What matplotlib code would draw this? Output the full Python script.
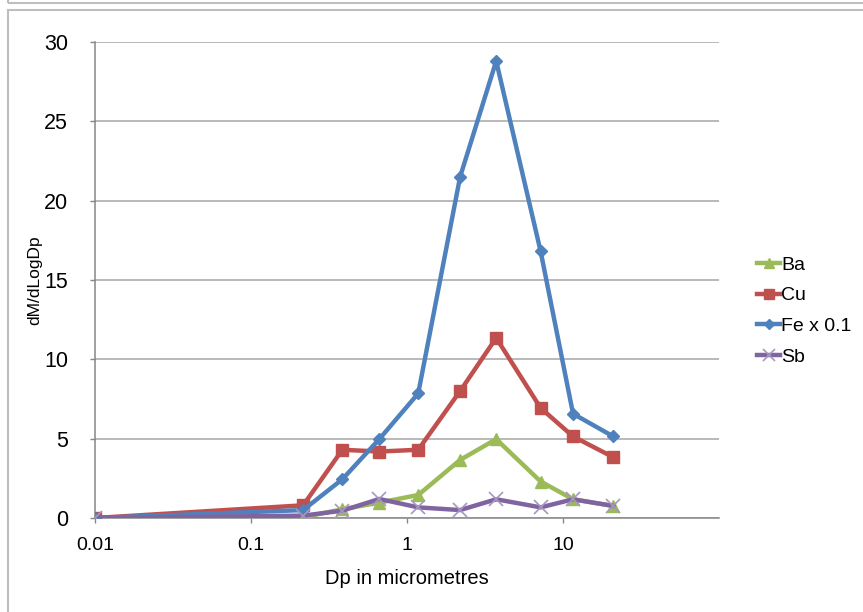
import numpy as np
import matplotlib.pyplot as plt
from matplotlib.patches import Rectangle

plt.rcParams['font.family'] = ['Liberation Sans', 'DejaVu Sans']

# Datos
dp = [0.01, 0.216, 0.385, 0.664, 1.18, 2.19, 3.73, 7.19, 11.6, 21.0]
ba = [0, 0.05, 0.55, 0.97, 1.45, 3.66, 4.97, 2.3, 1.18, 0.76]
cu = [0, 0.8, 4.3, 4.19, 4.3, 8.0, 11.35, 6.93, 5.14, 3.83]
fe = [0, 0.5, 2.44, 4.97, 7.85, 21.5, 28.8, 16.8, 6.57, 5.14]
sb = [0, 0.15, 0.46, 1.2, 0.67, 0.5, 1.18, 0.67, 1.18, 0.76]

xticks = [0.01, 0.1, 1, 10]
xtick_labels = ['0.01', '0.1', '1', '10']
yticks = [0, 5, 10, 15, 20, 25, 30]

fig = plt.figure(figsize=(8.63, 6.12), dpi=100)

# bordes del area del grafico (recortados)
fig.patches.append(Rectangle((8/863, -0.1), 1.2, 1 - 9.5/612 + 0.1,
                             transform=fig.transFigure, fill=False,
                             edgecolor='#BEBEBE', linewidth=1.5))
fig.patches.append(Rectangle((8/863, 1 - 2.5/612), 1.2, 0.1,
                             transform=fig.transFigure, fill=False,
                             edgecolor='#BEBEBE', linewidth=1.5))

ax = fig.add_axes([95/863, 1 - 518/612, 624/863, 476/612])

lw = 3.2
ax.plot(dp, ba, '-^', color='#9BBB59', lw=lw, ms=9, label='Ba', zorder=3)
ax.plot(dp, cu, '-s', color='#C0504D', lw=lw, ms=9, label='Cu', zorder=4)
ax.plot(dp, fe, '-D', color='#4F81BD', lw=lw, ms=6.5, label='Fe x 0.1', zorder=5)
ax.plot(dp, sb, '-x', color='#8064A2', lw=lw, ms=10, mec='#A597C0', mew=1.2,
        label='Sb', zorder=6)

ax.set_xscale('log')
ax.set_xlim(0.01, 100)
ax.set_ylim(0, 30)
ax.set_xticks(xticks)
ax.set_xticklabels(xtick_labels)
ax.xaxis.set_minor_locator(plt.NullLocator())
ax.set_yticks(yticks)
ax.tick_params(axis='both', color='#868686', length=3.5, width=1)
ax.tick_params(axis='x', labelsize=14, pad=10)
ax.tick_params(axis='y', labelsize=15.5, pad=16)
ax.grid(axis='y', color='#A6A6A6', linewidth=1.1)
ax.set_axisbelow(True)
for s in ['top', 'right']:
    ax.spines[s].set_visible(False)
for s in ['left', 'bottom']:
    ax.spines[s].set_color('#868686')
    ax.spines[s].set_linewidth(1.1)

ax.set_xlabel('Dp in micrometres', fontsize=14.5, labelpad=11)
ax.set_ylabel('dM/dLogDp', fontsize=12.5, labelpad=1)

handles, labels = ax.get_legend_handles_labels()
fig.legend(handles, labels, loc='center left', bbox_to_anchor=(757/863, 1 - 311/612),
           frameon=False, fontsize=14, handlelength=1.2, handletextpad=0.05,
           labelspacing=0.68, borderpad=0, borderaxespad=0, markerscale=0.8)

plt.savefig('out.png', dpi=100)
